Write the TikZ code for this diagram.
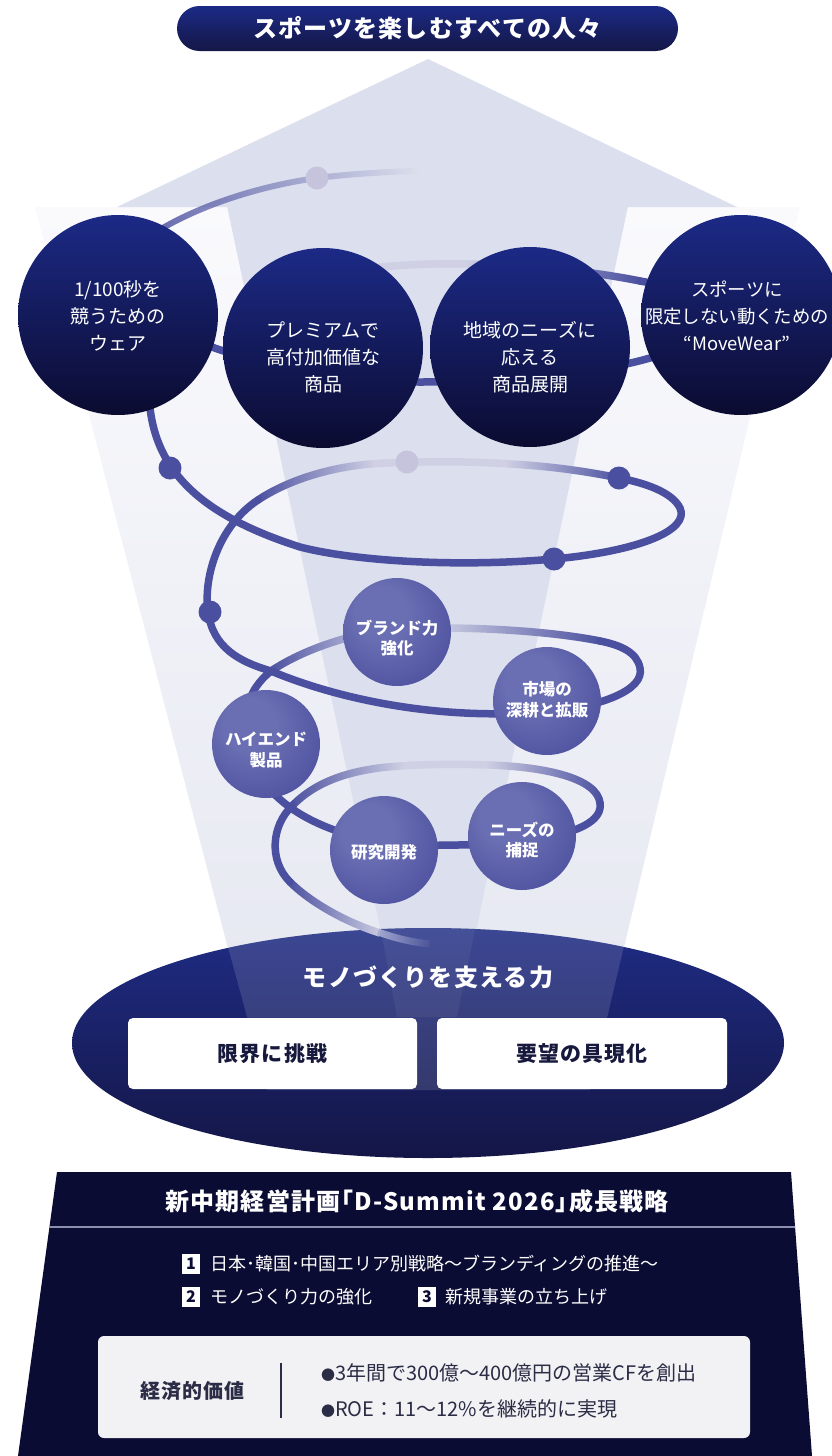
\documentclass[tikz,border=0pt]{standalone}
\usepackage{fontspec}
\setmainfont{Noto Sans CJK JP}
\usetikzlibrary{fadings}

\definecolor{navyT}{HTML}{1C2A86}
\definecolor{navyB}{HTML}{0B0B30}
\definecolor{pillB}{HTML}{141746}
\definecolor{band}{HTML}{DCDFED}
\definecolor{outerT}{HTML}{FAFAFD}
\definecolor{outerB}{HTML}{E7E9F2}
\definecolor{spir}{HTML}{4A4F9F}
\definecolor{spirL}{HTML}{CFD0E4}
\definecolor{dotL}{HTML}{C6C4DC}
\definecolor{tailL}{HTML}{A9ACD4}
\definecolor{sphA}{HTML}{6A6EB2}
\definecolor{sphB}{HTML}{5357A3}
\definecolor{sphC}{HTML}{3A3D86}
\definecolor{sphD}{HTML}{1F2052}
\definecolor{ellT}{HTML}{1F2C84}
\definecolor{ellB}{HTML}{141646}
\definecolor{botbg}{HTML}{0B0C33}
\definecolor{divc}{HTML}{8C8EAE}
\definecolor{boxtxt}{HTML}{16183C}
\definecolor{greybox}{HTML}{F2F2F5}
\definecolor{greytxt}{HTML}{2B2C45}

\tikzfading[name=fadeR, left color=transparent!0, right color=transparent!100]
\tikzfading[name=fadeL, left color=transparent!100, right color=transparent!0]
\tikzfading[name=fadeRa, left color=transparent!15, right color=transparent!100]

\pgfdeclareradialshading{sph}{\pgfqpoint{-10bp}{12bp}}{color(0bp)=(sphA); color(12bp)=(sphA); color(30bp)=(sphB); color(42bp)=(sphC); color(50bp)=(sphD)}

\begin{document}
\begin{tikzpicture}[x=1pt,y=-1pt,
  spl/.style={draw=spir, line width=7.5pt, line cap=round},
  spll/.style={draw=spirL, line width=7.5pt},
  bigc/.style={circle, minimum size=200pt, inner sep=0pt, top color=navyT, bottom color=navyB},
  sphn/.style={circle, minimum size=108pt, inner sep=0pt, shade, shading=sph},
  ctxt/.style={text=white, align=center, inner sep=0pt, font=\fontsize{19}{27}\selectfont},
  stxt/.style={text=white, align=center, inner sep=0pt, font=\bfseries\fontsize{16.5}{20.5}\selectfont},
  dotd/.style={circle, fill=spir, minimum size=23pt, inner sep=0pt},
  dotl/.style={circle, fill=dotL, minimum size=23pt, inner sep=0pt},
  headtxt/.style={text=white, inner sep=0pt, font=\bfseries\fontsize{24}{24}\selectfont\addfontfeature{LetterSpace=5}},
  wbox/.style={fill=white, rounded corners=5pt, minimum height=71pt, inner sep=0pt, text=boxtxt, font=\bfseries\fontsize{21}{21}\selectfont\addfontfeature{LetterSpace=5}},
  numbox/.style={fill=white, minimum width=18pt, minimum height=20pt, inner sep=0pt, text=botbg, font=\bfseries\fontsize{16}{16}\selectfont},
  itemtxt/.style={anchor=west, text=white, inner sep=0pt, font=\fontsize{18}{18}\selectfont},
  bultxt/.style={anchor=west, text=greytxt, inner sep=0pt, font=\fontsize{20}{20}\selectfont}
]
\useasboundingbox (0,0) rectangle (831,1456);
\fill[white] (0,0) rectangle (831,1456);

% ---------- background arrow ----------
\shade[top color=outerT, bottom color=outerB] (35,207) -- (800,207) -- (621,960) -- (231,960) -- cycle;
\fill[band] (117,207) -- (428,59) -- (737,207) -- cycle;
\fill[band] (227,206) -- (628,206) -- (470,960) -- (387,960) -- cycle;

% ---------- base ellipse ----------
\shade[top color=ellT, bottom color=ellB] (428,1043) ellipse [x radius=356, y radius=115];
\begin{scope}
  \clip (428,1043) ellipse [x radius=356, y radius=115];
  \fill[white, opacity=0.13] (222,925) -- (629,925) -- (590,1090) -- (267,1090) -- cycle;
  \fill[white, opacity=0.05] (380,925) -- (476,925) -- (457,1017) -- (397,1017) -- cycle;
\end{scope}

% ---------- spiral: light bases ----------
\draw[spll] (640,281) .. controls (590,271) and (530,265) .. (470,264) .. controls (420,263) and (370,266) .. (330,275);
\draw[spll] (619,478) .. controls (585,471) and (548,466) .. (510,464) .. controls (470,461) and (410,461) .. (370,464) .. controls (325,468) and (285,482) .. (258,500);
\draw[spll] (600,641) .. controls (560,633) and (500,628) .. (440,628);
\draw[spll] (380,630) .. controls (330,640) and (295,655) .. (271,671);
\draw[spll] (600,803) .. controls (597,778) and (545,767) .. (490,765) .. controls (460,764) and (430,764) .. (400,766) .. controls (350,769) and (315,782) .. (292,806);
\draw[spll] (290,882) .. controls (310,902) and (345,922) .. (380,933);

% ---------- spiral: dark solid ----------
\draw[spl] (150,320) .. controls (175,335) and (280,382) .. (420,382) .. controls (560,382) and (690,362) .. (706,325) .. controls (712,300) and (680,288) .. (640,281);
\draw[spl] (149,395) .. controls (152,470) and (200,515) .. (300,547) .. controls (350,560) and (450,568) .. (554,559) .. controls (640,551) and (690,530) .. (680,508) .. controls (672,492) and (645,483) .. (619,478);
\draw[spl] (258,500) .. controls (220,525) and (203,575) .. (208,612) .. controls (213,648) and (240,662) .. (271,671) .. controls (340,700) and (440,720) .. (540,712) .. controls (600,708) and (645,690) .. (640,668) .. controls (637,652) and (620,645) .. (600,641);
\draw[spl] (271,671) .. controls (260,680) and (250,692) .. (247,710) .. controls (240,770) and (275,810) .. (340,832) .. controls (380,850) and (420,845) .. (455,845) .. controls (520,845) and (605,835) .. (600,803);
\draw[spl] (292,806) .. controls (272,825) and (268,860) .. (290,882);

% ---------- spiral: fading parts ----------
\draw[spl, line width=6pt, path fading=fadeRa] (156,232) .. controls (200,205) and (260,186) .. (317,178) .. controls (350,174) and (385,172) .. (415,171);
\draw[spl, path fading=fadeL] (640,281) .. controls (590,271) and (530,265) .. (470,264);
\draw[spl, path fading=fadeL] (619,478) .. controls (585,471) and (548,466) .. (510,464);
\draw[spl, path fading=fadeR] (258,500) .. controls (285,482) and (325,468) .. (370,464);
\draw[spl, path fading=fadeL] (600,641) .. controls (560,633) and (500,628) .. (440,628);
\draw[spl, path fading=fadeR] (271,671) .. controls (295,655) and (330,640) .. (380,630);
\draw[spl, path fading=fadeL] (600,803) .. controls (597,778) and (545,767) .. (490,765);
\draw[spl, path fading=fadeR] (292,806) .. controls (315,782) and (350,769) .. (400,766);
\draw[spl, path fading=fadeR] (290,882) .. controls (310,902) and (345,922) .. (380,933);
\draw[draw=tailL, line width=7pt, path fading=fadeR] (378,932) .. controls (398,939) and (412,942) .. (430,944);

% ---------- dots ----------
\node[dotl] (dA) at (317,178) {};
\node[dotl] (dB) at (407,462) {};
\node[dotd] (d1) at (170,468) {};
\node[dotd] (d2) at (619,478) {};
\node[dotd] (d3) at (554,559) {};
\node[dotd] (d4) at (210,612) {};

% ---------- big circles ----------
\node[bigc] (c1) at (118,315) {};
\node[bigc] (c2) at (323,348) {};
\node[bigc] (c3) at (530,347) {};
\node[bigc] (c4) at (741,315) {};
\node[ctxt] (c1t) at (118,316) {1/100秒を\\競うための\\ウェア};
\node[ctxt] (c2t) at (323,357) {プレミアムで\\高付加価値な\\商品};
\node[ctxt] (c3t) at (530,357) {地域のニーズに\\応える\\商品展開};
\node[ctxt, font=\fontsize{18.4}{27}\selectfont] (c4t) at (737,316) {スポーツに\\限定しない動くための\\“MoveWear”};

% ---------- spheres ----------
\node[sphn] (s1) at (397,632) {};
\node[sphn] (s2) at (547,701) {};
\node[sphn] (s3) at (266,744) {};
\node[sphn] (s4) at (384,850) {};
\node[sphn] (s5) at (522,836) {};
\node[stxt] (s1t) at (397,638) {ブランド力\\強化};
\node[stxt] (s2t) at (547,700) {市場の\\深耕と拡販};
\node[stxt] (s3t) at (266,750) {ハイエンド\\製品};
\node[stxt] (s4t) at (384,852) {研究開発};
\node[stxt] (s5t) at (522,840) {ニーズの\\捕捉};

% ---------- top pill ----------
\node[headtxt, rounded corners=22.5pt, minimum width=501pt, minimum height=45pt, top color=navyT, bottom color=pillB] (top) at (427.5,28.5) {スポーツを楽しむすべての人々};

% ---------- ellipse contents ----------
\node[headtxt] (et) at (428,977) {モノづくりを支える力};
\node[wbox, minimum width=289pt] (b1) at (272.5,1053.5) {限界に挑戦};
\node[wbox, minimum width=290pt] (b2) at (582,1053.5) {要望の具現化};

% ---------- bottom panel ----------
\fill[botbg] (57,1172) -- (791,1172) -- (812,1456) -- (18,1456) -- cycle;
\coordinate (dvL) at (49,1227);
\coordinate (dvR) at (795,1227);
\draw[divc, line width=1.2pt] (dvL) -- (dvR);
\node[headtxt] (plan) at (417,1201) {新中期経営計画｢D-Summit 2026｣成長戦略};

\node[numbox] (n1) at (191,1264) {1};
\node[itemtxt] (i1) at (210,1264) {日本･韓国･中国エリア別戦略〜ブランディングの推進〜};
\node[numbox] (n2) at (191,1297) {2};
\node[itemtxt] (i2) at (210,1297) {モノづくり力の強化};
\node[numbox] (n3) at (427,1297) {3};
\node[itemtxt] (i3) at (445,1297) {新規事業の立ち上げ};

\node[fill=greybox, rounded corners=6pt, minimum width=652pt, minimum height=102pt, inner sep=0pt] (gb) at (424,1387) {};
\node[text=greytxt, inner sep=0pt, font=\bfseries\fontsize{20}{20}\selectfont\addfontfeature{LetterSpace=5}] (ev) at (192,1391) {経済的価値};
\coordinate (vsT) at (281,1363);
\coordinate (vsB) at (281,1418);
\draw[greytxt, line width=1.5pt] (vsT) -- (vsB);
\node[bultxt] (bl1) at (321,1373) {{\fontsize{14}{14}\selectfont ●}3年間で300億〜400億円の営業CFを創出};
\node[bultxt] (bl2) at (321,1409) {{\fontsize{14}{14}\selectfont ●}ROE：11〜12\%を継続的に実現};
\end{tikzpicture}
\end{document}
